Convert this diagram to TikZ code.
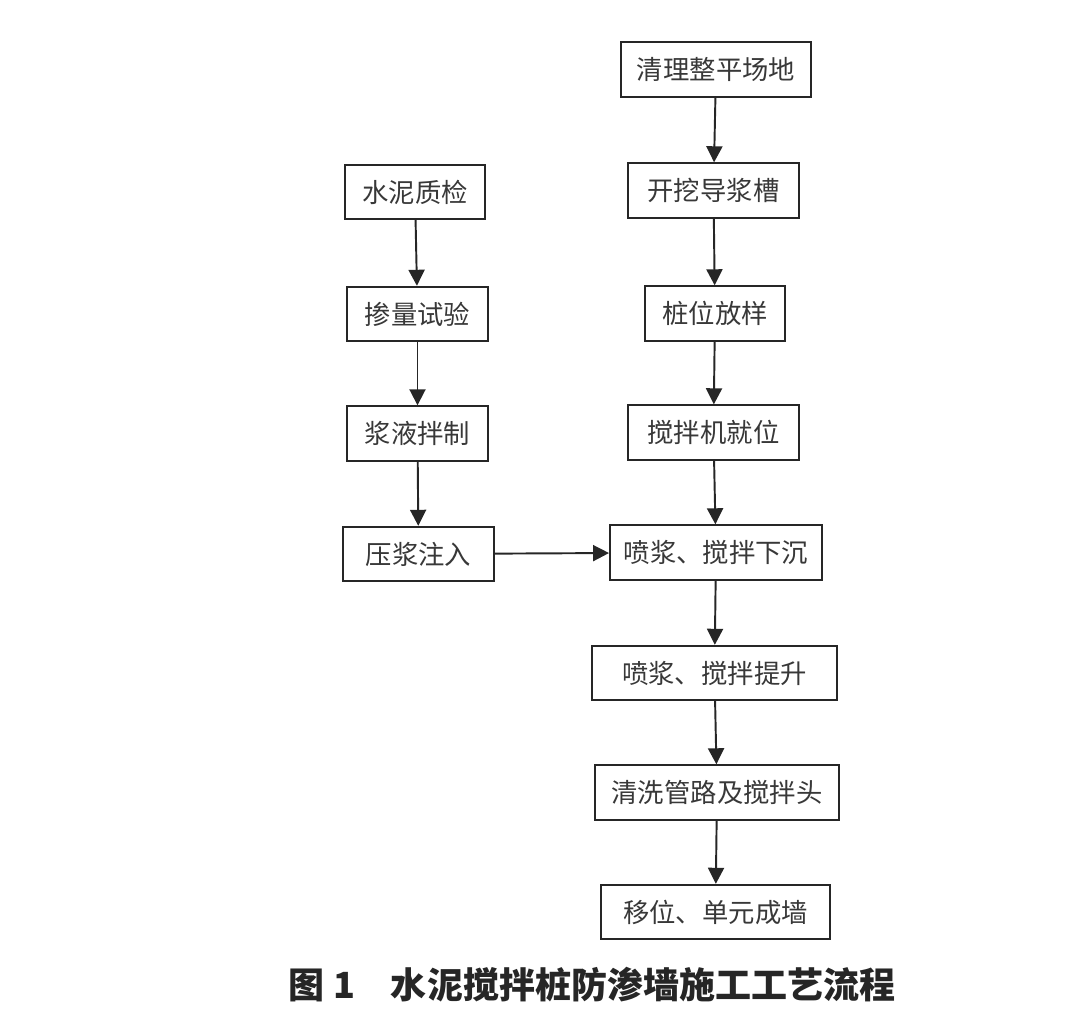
\documentclass[tikz,border=0pt]{standalone}
\usepackage{fontspec}
\newfontfamily\cjk{Noto Sans CJK SC}
\usetikzlibrary{arrows.meta, positioning}

\begin{document}
\begin{tikzpicture}[
    x=0.02cm, y=-0.02cm,
    step box/.style={
        draw=black!85,
        line width=1.1pt,
        minimum height=1.09cm,
        inner sep=0pt,
        text=black!78,
        font=\cjk\fontsize{15pt}{17pt}\selectfont,
    },
    flow/.style={
        draw=black!85,
        line width=1.1pt,
        -{Triangle[length=3.2mm, width=3.2mm]},
    },
    caption/.style={
        font=\cjk\bfseries\fontsize{20.5pt}{24pt}\selectfont,
        text=black!85,
    }
]
    \useasboundingbox (0,0) rectangle (1080,1022);

    % Main line
    \node[step box, minimum width=3.8cm] (clean) at (716,69.5) {清理整平场地};
    \node[step box, minimum width=3.42cm] (trench) at (713.5,190.5) {开挖导浆槽};
    \node[step box, minimum width=2.8cm] (layout) at (715,313.5) {桩位放样};
    \node[step box, minimum width=3.42cm] (rig) at (713.5,432.5) {搅拌机就位};
    \node[step box, minimum width=4.24cm] (sink) at (716,552.5) {喷浆、搅拌下沉};
    \node[step box, minimum width=4.9cm] (lift) at (714.5,673) {喷浆、搅拌提升};
    \node[step box, minimum width=4.88cm] (wash) at (717,792.5) {清洗管路及搅拌头};
    \node[step box, minimum width=4.58cm] (move) at (715.5,912) {移位、单元成墙};

    % Grout line
    \node[step box, minimum width=2.8cm] (check) at (415,192) {水泥质检};
    \node[step box, minimum width=2.82cm] (trial) at (417.5,314) {掺量试验};
    \node[step box, minimum width=2.82cm] (mixing) at (417.5,433.5) {浆液拌制};
    \node[step box, minimum width=3.02cm] (inject) at (418.5,554) {压浆注入};

    % Arrows
    \draw[flow] (clean) -- (trench);
    \draw[flow] (trench) -- (layout);
    \draw[flow] (layout) -- (rig);
    \draw[flow] (rig) -- (sink);
    \draw[flow] (sink) -- (lift);
    \draw[flow] (lift) -- (wash);
    \draw[flow] (wash) -- (move);
    \draw[flow] (check) -- (trial);
    \draw[flow] (trial) -- (mixing);
    \draw[flow] (mixing) -- (inject);
    \draw[flow] (inject) -- (sink);

    % Caption
    \node[caption] (title) at (592,985) {图 1　水泥搅拌桩防渗墙施工工艺流程};
\end{tikzpicture}
\end{document}
